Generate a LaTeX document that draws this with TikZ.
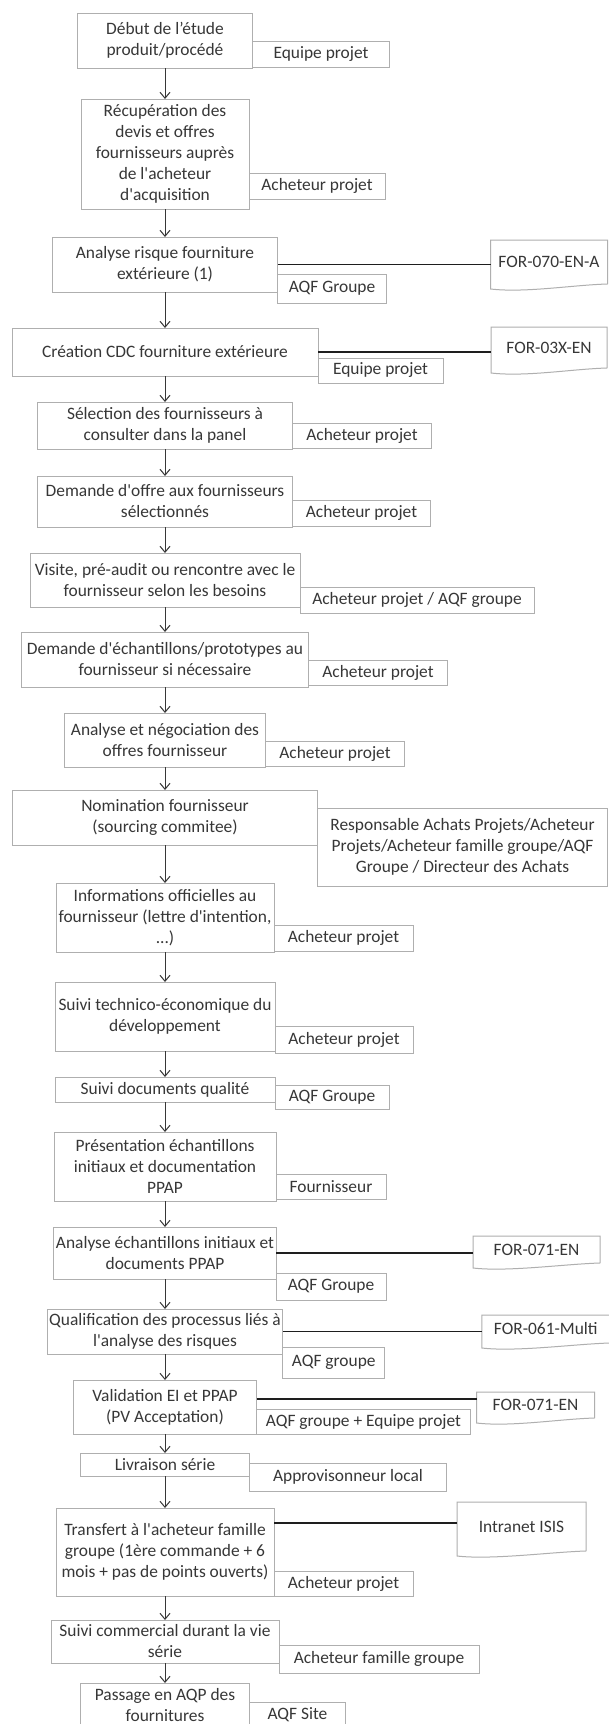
\documentclass[tikz,border=0pt]{standalone}
\usepackage{fontspec}
\setmainfont{Carlito}[Ligatures=TeXOff]
\usetikzlibrary{positioning,arrows.meta}

\definecolor{boxgray}{RGB}{175,175,175}
\definecolor{txtgray}{RGB}{55,55,55}
\definecolor{linegray}{RGB}{30,30,30}

\tikzset{
  stepbox/.style={draw=boxgray, line width=1pt, text=txtgray, align=center,
    inner sep=2pt, outer sep=0pt, font=\fontsize{17.4}{21}\selectfont},
  role/.style={stepbox},
  docbox/.style={text=txtgray, align=center, inner sep=2pt, outer sep=0pt,
    font=\fontsize{17.4}{21}\selectfont},
  flow/.style={-{Straight Barb[length=6pt,width=10pt]}, draw=txtgray, line width=1pt},
  link/.style={draw=linegray, line width=1.3pt}
}

\begin{document}
\begin{tikzpicture}
  \fill[white] (0,0) rectangle (608pt,-1724pt);
  \useasboundingbox (0,0) rectangle (608pt,-1724pt);

  % main steps
  \node [stepbox, minimum width=175pt, minimum height=55pt] (s1) at (165pt,-40.5pt) {Début de l’étude\\produit/procédé};
  \node [stepbox, minimum width=168pt, minimum height=110pt] (s2) [below=31pt of s1] {Récupération des\\devis et offres\\fournisseurs auprès\\de l'acheteur\\d'acquisition};
  \node [stepbox, minimum width=225pt, minimum height=55pt] (s3) [below=28pt of s2] {Analyse risque fourniture\\extérieure (1)};
  \node [stepbox, minimum width=306pt, minimum height=48pt] (s4) [below=36pt of s3] {Création CDC fourniture extérieure};
  \node [stepbox, minimum width=255pt, minimum height=47pt] (s5) [below=26pt of s4] {Sélection des fournisseurs à\\consulter dans la panel};
  \node [stepbox, minimum width=255pt, minimum height=51pt] (s6) [below=27pt of s5] {Demande d'offre aux fournisseurs\\sélectionnés};
  \node [stepbox, minimum width=270pt, minimum height=54pt] (s7) [below=26pt of s6] {Visite, pré-audit ou rencontre avec le\\fournisseur selon les besoins};
  \node [stepbox, minimum width=287pt, minimum height=55pt] (s8) [below=25pt of s7] {Demande d'échantillons/prototypes au\\fournisseur si nécessaire};
  \node [stepbox, minimum width=201pt, minimum height=54pt] (s9) [below=26pt of s8] {Analyse et négociation des\\offres fournisseur};
  \node [stepbox, minimum width=305pt, minimum height=55pt] (s10) [below=23pt of s9] {Nomination fournisseur\\(sourcing commitee)};
  \node [stepbox, minimum width=218pt, minimum height=69pt] (s11) [below=38pt of s10] {Informations officielles au\\fournisseur (lettre d'intention,\\...)};
  \node [stepbox, minimum width=220pt, minimum height=69pt] (s12) [below=30pt of s11] {Suivi technico-économique du\\développement};
  \node [stepbox, minimum width=220pt, minimum height=25pt] (s13) [below=26pt of s12] {Suivi documents qualité};
  \node [stepbox, minimum width=222pt, minimum height=69pt] (s14) [below=30pt of s13] {Présentation échantillons\\initiaux et documentation\\PPAP};
  \node [stepbox, minimum width=222pt, minimum height=52pt] (s15) [below=26pt of s14] {Analyse échantillons initiaux et\\documents PPAP};
  \node [stepbox, minimum width=228pt, minimum height=45pt] (s16) [below=30pt of s15] {Qualification des processus liés à\\l'analyse des risques};
  \node [stepbox, minimum width=183pt, minimum height=54pt] (s17) [below=26pt of s16] {Validation EI et PPAP\\(PV Acceptation)};
  \node [stepbox, minimum width=169pt, minimum height=23pt] (s18) [below=19pt of s17] {Livraison série};
  \node [stepbox, minimum width=218pt, minimum height=88pt] (s19) [below=32pt of s18] {Transfert à l'acheteur famille\\groupe (1ère commande + 6\\mois + pas de points ouverts)};
  \node [stepbox, minimum width=228pt, minimum height=43pt] (s20) [below=24pt of s19] {Suivi commercial durant la vie\\série};
  \node [stepbox, minimum width=169pt, minimum height=44pt] (s21) [below=20pt of s20] {Passage en AQP des\\fournitures};

  % who does it
  \node [role, minimum width=137pt, minimum height=26pt] (r1) [above right=1pt and 0pt of s1.south east] {Equipe projet};
  \node [role, minimum width=136pt, minimum height=26pt] (r2) [above right=10pt and 0pt of s2.south east] {Acheteur projet};
  \node [role, minimum width=109pt, minimum height=29pt] (r3) [above right=-11pt and 0pt of s3.south east] {AQF Groupe};
  \node [role, minimum width=125pt, minimum height=25pt] (r4) [above right=-7pt and 0pt of s4.south east] {Equipe projet};
  \node [role, minimum width=139pt, minimum height=25pt] (r5) [above right=1pt and 0pt of s5.south east] {Acheteur projet};
  \node [role, minimum width=138pt, minimum height=26pt] (r6) [above right=1pt and 0pt of s6.south east] {Acheteur projet};
  \node [role, minimum width=234pt, minimum height=26pt] (r7) [above right=-6pt and 0pt of s7.south east] {Acheteur projet / AQF groupe};
  \node [role, minimum width=139pt, minimum height=25pt] (r8) [above right=2pt and 0pt of s8.south east] {Acheteur projet};
  \node [role, minimum width=139pt, minimum height=25pt] (r9) [above right=1pt and 0pt of s9.south east] {Acheteur projet};
  \node [role, minimum width=290pt, minimum height=78pt] (r10) [above right=-41pt and 0pt of s10.south east] {Responsable Achats Projets/Acheteur\\Projets/Acheteur famille groupe/AQF\\Groupe / Directeur des Achats};
  \node [role, minimum width=139pt, minimum height=26pt] (r11) [above right=1pt and 0pt of s11.south east] {Acheteur projet};
  \node [role, minimum width=138pt, minimum height=27pt] (r12) [above right=-2pt and 0pt of s12.south east] {Acheteur projet};
  \node [role, minimum width=114pt, minimum height=24pt] (r13) [above right=-7pt and 0pt of s13.south east] {AQF Groupe};
  \node [role, minimum width=110pt, minimum height=25pt] (r14) [above right=2pt and 0pt of s14.south east] {Fournisseur};
  \node [role, minimum width=110pt, minimum height=27pt] (r15) [above right=-21pt and 0pt of s15.south east] {AQF Groupe};
  \node [role, minimum width=102pt, minimum height=31pt] (r16) [above right=-24pt and 0pt of s16.south east] {AQF groupe};
  \node [role, minimum width=214pt, minimum height=25pt] (r17) [above right=0pt and 0pt of s17.south east] {AQF groupe + Equipe projet};
  \node [role, minimum width=197pt, minimum height=28pt] (r18) [above right=-15pt and 0pt of s18.south east] {Approvisonneur local};
  \node [role, minimum width=139pt, minimum height=25pt] (r19) [above right=0pt and 0pt of s19.south east] {Acheteur projet};
  \node [role, minimum width=200pt, minimum height=28pt] (r20) [above right=-10pt and 0pt of s20.south east] {Acheteur famille groupe};
  \node [role, minimum width=96pt, minimum height=26pt] (r21) [above right=-1pt and 0pt of s21.south east] {AQF Site};

  % forms and documents
  \node [docbox, minimum width=117pt, minimum height=44pt] (d3) [right=213pt of s3, yshift=2.5pt] {FOR-070-EN-A};
  \node [docbox, minimum width=116pt, minimum height=41pt] (d4) [right=173pt of s4, yshift=4.5pt] {FOR-03X-EN};
  \node [docbox, minimum width=127pt, minimum height=27pt] (d15) [right=197pt of s15, yshift=3.5pt] {FOR-071-EN};
  \node [docbox, minimum width=128pt, minimum height=28pt] (d16) [right=199pt of s16, yshift=2.5pt] {FOR-061-Multi};
  \node [docbox, minimum width=118pt, minimum height=26pt] (d17) [right=220pt of s17, yshift=2pt] {FOR-071-EN};
  \node [docbox, minimum width=129pt, minimum height=49pt] (d19) [right=183pt of s19, yshift=25.5pt] {Intranet ISIS};

  \foreach \d in {d3,d4,d15,d16,d17,d19}
    \draw [boxgray, line width=1pt] (\d.south east) -- (\d.north east) -- (\d.north west) -- ([yshift=-5pt]\d.south west)
      .. controls ([xshift=35pt,yshift=-9pt]\d.south west) and ([xshift=-35pt,yshift=-1pt]\d.south east) .. (\d.south east);

  \path[flow]
    (s1) edge (s2)
    (s2) edge (s3)
    (s3) edge (s4)
    (s4) edge (s5)
    (s5) edge (s6)
    (s6) edge (s7)
    (s7) edge (s8)
    (s8) edge (s9)
    (s9) edge (s10)
    (s10) edge (s11)
    (s11) edge (s12)
    (s12) edge (s13)
    (s13) edge (s14)
    (s14) edge (s15)
    (s15) edge (s16)
    (s16) edge (s17)
    (s17) edge (s18)
    (s18) edge (s19)
    (s19) edge (s20)
    (s20) edge (s21);

  \draw[link] (s3.east) -- (s3.east -| d3.west);
  \draw[link] (s4.east) -- (s4.east -| d4.west);
  \draw[link] (s15.east) -- (s15.east -| d15.west);
  \draw[link] (s16.east) -- (s16.east -| d16.west);
  \draw[link] ([yshift=8pt]s17.east) -- ([yshift=8pt]s17.east -| d17.west);
  \draw[link] ([yshift=29pt]s19.east) -- ([yshift=29pt]s19.east -| d19.west);
\end{tikzpicture}
\end{document}
